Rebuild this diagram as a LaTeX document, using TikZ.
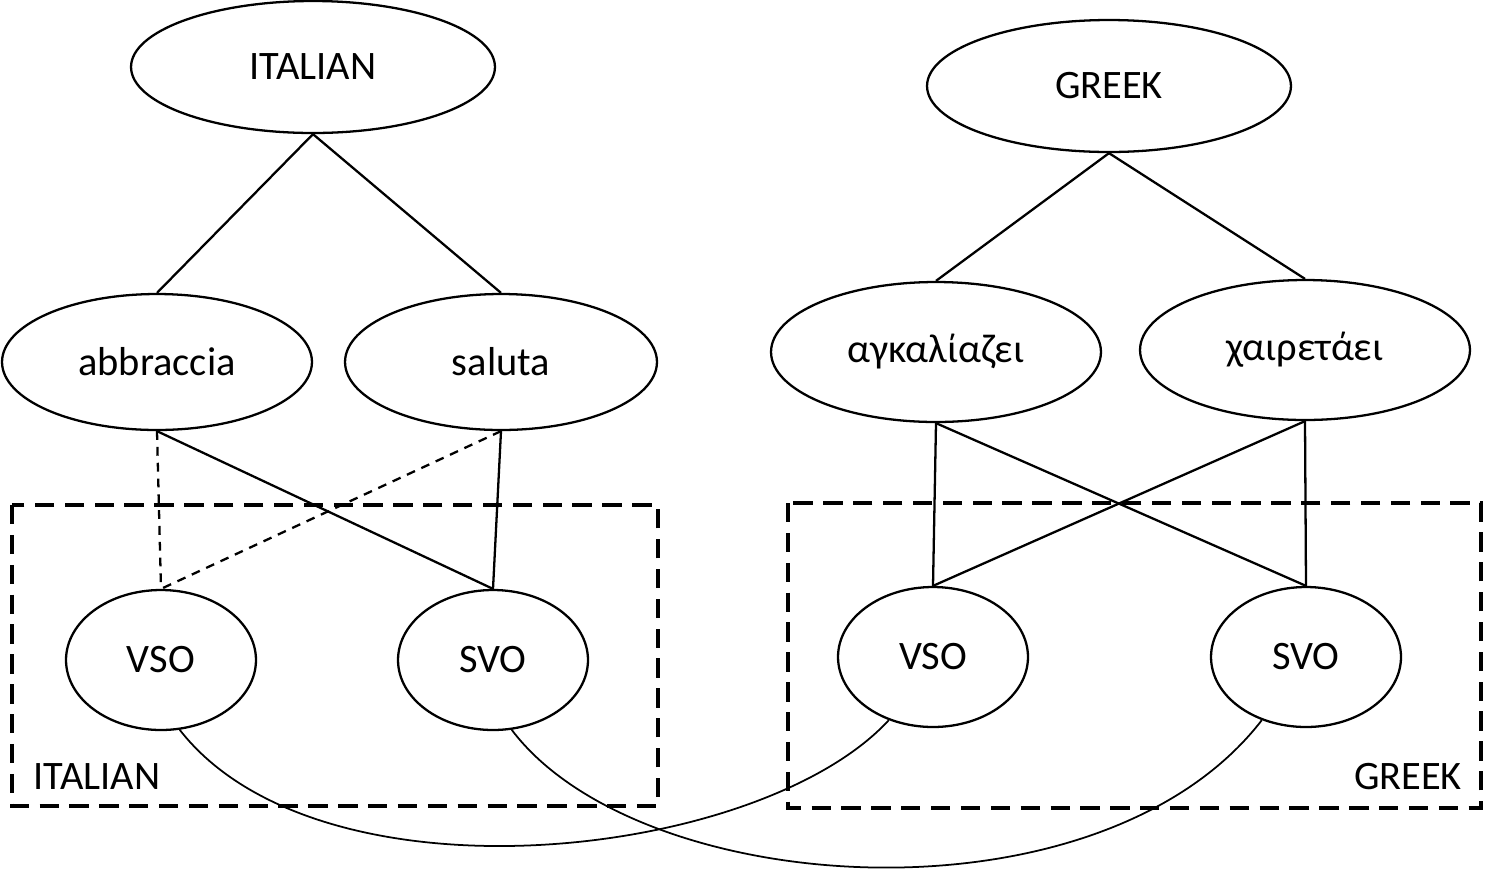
\documentclass[tikz,border=0pt]{standalone}
\usepackage{fontspec}
\setmainfont{Carlito}
\usetikzlibrary{shapes.geometric}
\begin{document}
\begin{tikzpicture}[x=0.02cm,y=-0.02cm,
  el/.style={draw,ellipse,line width=1.3pt,inner sep=0pt,font=\fontsize{23}{27}\selectfont},
  ln/.style={line width=1.3pt},
  dl/.style={line width=1.3pt,dash pattern=on 5pt off 4pt},
  box/.style={line width=2.4pt,dash pattern=on 11pt off 6pt},
  lab/.style={font=\fontsize{23}{27}\selectfont,inner sep=0pt}]
\useasboundingbox (0,0) rectangle (1491,877);
\node[el,minimum width=7.28cm,minimum height=2.64cm] (it) at (313,67) {ITALIAN};
\node[el,minimum width=7.28cm,minimum height=2.64cm] (gr) at (1109,86) {GREEK};
\node[el,minimum width=6.2cm,minimum height=2.72cm] (ab) at (157,362) {abbraccia};
\node[el,minimum width=6.24cm,minimum height=2.72cm] (sa) at (501,362) {saluta};
\node[el,minimum width=6.6cm,minimum height=2.8cm] (ag) at (936,352) {αγκαλίαζει};
\node[el,minimum width=6.6cm,minimum height=2.8cm] (xa) at (1305,350) {χαιρετάει};
\node[el,minimum width=3.8cm,minimum height=2.8cm] (vi) at (161,660) {VSO};
\node[el,minimum width=3.8cm,minimum height=2.8cm] (si) at (493,660) {SVO};
\node[el,minimum width=3.8cm,minimum height=2.8cm] (vg) at (933,657) {VSO};
\node[el,minimum width=3.8cm,minimum height=2.8cm] (sg) at (1306,657) {SVO};
\draw[box] (12,505) rectangle (658,806);
\draw[box] (788,503) rectangle (1481,808);
\node[lab] (li) at (97,777) {ITALIAN};
\node[lab] (lg) at (1408,777) {GREEK};
\draw[ln] (it.south) -- (ab.north);
\draw[ln] (it.south) -- (sa.north);
\draw[ln] (gr.south) -- (ag.north);
\draw[ln] (gr.south) -- (xa.north);
\draw[dl] (ab.south) -- (vi.north);
\draw[ln] (ab.south) -- (si.north);
\draw[dl] (sa.south) -- (vi.north);
\draw[ln] (sa.south) -- (si.north);
\draw[ln] (ag.south) -- (vg.north);
\draw[ln] (ag.south) -- (sg.north);
\draw[ln] (xa.south) -- (vg.north);
\draw[ln] (xa.south) -- (sg.north);
\draw[line width=1pt] (vi.-75) .. controls (320,910) and (760,860) .. (vg.-125);
\draw[line width=1pt] (si.-75) .. controls (640,900) and (1100,930) .. (sg.-125);
\end{tikzpicture}
\end{document}
